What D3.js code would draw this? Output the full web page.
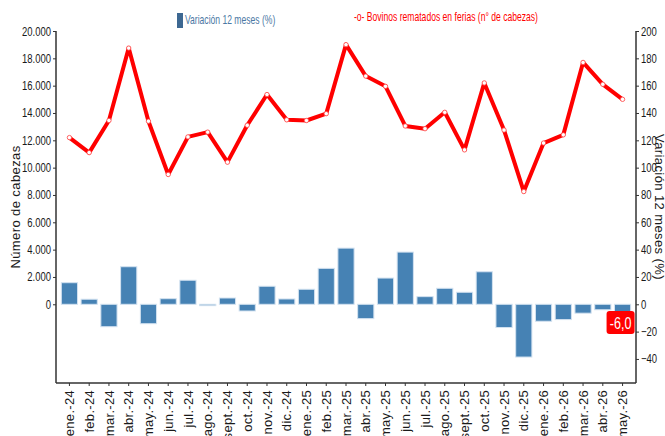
<!DOCTYPE html>
<html>
<head>
<meta charset="utf-8">
<script src="https://cdn.jsdelivr.net/npm/d3@7"></script>
<style>
  body { margin: 0; background: #fff; }
  svg { display: block; font-family: "Liberation Sans", Arial, sans-serif; }
</style>
</head>
<body>
<div id="chart"></div>
<script>
var months = ["ene.-24", "feb.-24", "mar.-24", "abr.-24", "may.-24", "jun.-24", "jul.-24", "ago.-24", "sept.-24", "oct.-24", "nov.-24", "dic.-24",
    "ene.-25", "feb.-25", "mar.-25", "abr.-25", "may.-25", "jun.-25", "jul.-25", "ago.-25", "sept.-25", "oct.-25", "nov.-25", "dic.-25",
    "ene.-26", "feb.-26", "mar.-26", "abr.-26", "may.-26"];

// bovinos rematados en ferias (n° de cabezas)
var heads = [12200, 11100, 13450, 18750, 13400, 9500, 12250, 12600, 10400, 13100, 15350, 13500,
    13450, 13950, 19000, 16700, 15950, 13050, 12850, 14050, 11300, 16200, 12750, 8250,
    11800, 12400, 17700, 16100, 15000];

// variación 12 meses (%)
var varPct = [15.8, 3.7, -16.4, 27.5, -14.2, 4.1, 17.6, -1.0, 4.6, -4.9, 13.2, 3.9,
    11.0, 26.3, 41.1, -10.5, 19.2, 38.2, 5.6, 11.7, 8.8, 23.8, -17.0, -38.6,
    -12.4, -11.2, -6.5, -4.0, -6.0];

var leftTicks = [0, 2000, 4000, 6000, 8000, 10000, 12000, 14000, 16000, 18000, 20000];
var rightTicks = [-40, -20, 0, 20, 40, 60, 80, 100, 120, 140, 160, 180, 200];

var width = 665, height = 436;
var plotLeft = 56, plotRight = 636, plotTop = 31, plotBottom = 383;

var svg = d3.select("#chart")
    .append("svg")
    .attr("width", width)
    .attr("height", height);

// no narrow font installed: squeeze text horizontally instead
function squeeze(sel, k) {
    sel.each(function () {
        var t = d3.select(this);
        var x0 = +t.attr("x") || 0;
        t.attr("x", x0 / k).attr("transform", "scale(" + k + ",1)");
    });
}

var x = d3.scaleBand()
    .domain(months)
    .range([plotLeft, plotRight])
    .paddingInner(0.18)
    .paddingOuter(0.27);

var yL = d3.scaleLinear().domain([-5760, 20000]).range([plotBottom, plotTop]);
var yR = d3.scaleLinear().domain([-57.6, 200]).range([plotBottom, plotTop]);

var fmt = function (d) { return d3.format(",")(d).replace(/,/g, "."); };

// bars
svg.append("g")
    .selectAll("rect")
    .data(varPct)
    .enter()
    .append("rect")
    .attr("x", function (d, i) { return x(months[i]); })
    .attr("y", function (d) { return yR(Math.max(0, d)); })
    .attr("width", x.bandwidth())
    .attr("height", function (d) { return Math.abs(yR(d) - yR(0)); })
    .style("fill", "#4682b4")
    .style("stroke", "#d3e2f0")
    .style("stroke-width", 1);

// line
var line = d3.line()
    .x(function (d, i) { return x(months[i]) + x.bandwidth() / 2; })
    .y(function (d) { return yL(d); });

svg.append("path")
    .datum(heads)
    .attr("d", line)
    .style("fill", "none")
    .style("stroke", "#ff0000")
    .style("stroke-width", 4)
    .style("stroke-linejoin", "round");

svg.append("g")
    .selectAll("circle")
    .data(heads)
    .enter()
    .append("circle")
    .attr("cx", function (d, i) { return x(months[i]) + x.bandwidth() / 2; })
    .attr("cy", function (d) { return yL(d); })
    .attr("r", 2.2)
    .style("fill", "#fff")
    .style("stroke", "#ff4040")
    .style("stroke-width", 0.8);

// axes
var axL = svg.append("g")
    .attr("transform", "translate(" + plotLeft + ",0)")
    .call(d3.axisLeft(yL).tickValues(leftTicks).tickFormat(fmt).tickSize(3).tickPadding(2));

var axR = svg.append("g")
    .attr("transform", "translate(" + plotRight + ",0)")
    .call(d3.axisRight(yR).tickValues(rightTicks).tickSize(3).tickPadding(2));

[axL, axR].forEach(function (ax) {
    ax.attr("font-family", null);
    ax.select(".domain").attr("d", "M0," + plotTop + "V" + plotBottom).style("stroke", "#333").style("stroke-width", 1.5);
    ax.selectAll(".tick line").style("stroke", "#333");
    ax.selectAll("text").style("font-size", "12.5px").style("fill", "#1a1a1a");
    squeeze(ax.selectAll("text"), 0.76);
});

var axB = svg.append("g")
    .attr("transform", "translate(0," + plotBottom + ")")
    .call(d3.axisBottom(x).tickSize(3).tickSizeOuter(0));

axB.attr("font-family", null);
axB.select(".domain").attr("d", "M" + plotLeft + ",0H" + plotRight).style("stroke", "#333").style("stroke-width", 1.5);
axB.selectAll(".tick line").style("stroke", "#333");
axB.selectAll("text")
    .style("font-size", "13px")
    .style("letter-spacing", "0.3px")
    .style("fill", "#1a1a1a")
    .attr("transform", "rotate(-90)")
    .attr("text-anchor", "end")
    .attr("x", -7)
    .attr("y", 0)
    .attr("dy", "0.35em");

// axis titles
svg.append("text")
    .attr("transform", "translate(20," + (plotTop + plotBottom) / 2 + ") rotate(-90)")
    .attr("text-anchor", "middle")
    .style("font-size", "13px")
    .style("letter-spacing", "0.4px")
    .style("fill", "#1a1a1a")
    .text("Número de cabezas");

svg.append("text")
    .attr("transform", "translate(655," + (plotTop + plotBottom) / 2 + ") rotate(90)")
    .attr("text-anchor", "middle")
    .style("font-size", "13px")
    .style("letter-spacing", "0.4px")
    .style("fill", "#1a1a1a")
    .text("Variación 12 meses (%)");

// legend
svg.append("rect")
    .attr("x", 177).attr("y", 13)
    .attr("width", 6).attr("height", 15)
    .style("fill", "#3d6892");

var leg1 = svg.append("text")
    .attr("x", 185).attr("y", 24.5)
    .style("font-size", "13px")
    .style("fill", "#4b78a4")
    .text("Variación 12 meses (%)");

var leg2 = svg.append("text")
    .attr("x", 354).attr("y", 21.5)
    .style("font-size", "13px")
    .style("fill", "#ff0000")
    .text("-o- Bovinos rematados en ferias (n° de cabezas)");

squeeze(leg1, 0.66);
squeeze(leg2, 0.66);

// last value label
var li = varPct.length - 1;
var lx = x(months[li]) + x.bandwidth() / 2 - 2;
var ly = yR(varPct[li]) + 10;
svg.append("rect")
    .attr("x", lx - 14).attr("y", ly - 11.5)
    .attr("width", 28).attr("height", 23)
    .attr("rx", 3)
    .style("fill", "#ff0000");

var lab = svg.append("text")
    .attr("x", lx).attr("y", ly)
    .attr("dy", "0.36em")
    .attr("text-anchor", "middle")
    .style("font-size", "17px")
    .style("fill", "#fff")
    .text(d3.format(".1f")(varPct[li]).replace(".", ",").replace("−", "-"));

squeeze(lab, 0.74);
</script>
</body>
</html>
